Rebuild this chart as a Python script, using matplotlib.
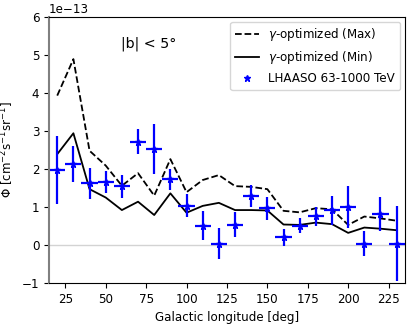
import numpy as np
import matplotlib
matplotlib.use("Agg")
import matplotlib.pyplot as plt

# Galactic longitude bins (deg)
lon = [20, 30, 40, 50, 60, 70, 80, 90, 100, 110, 120, 130, 140, 150,
       160, 170, 180, 190, 200, 210, 220, 230]

# gamma-optimized model fluxes, in units of 1e-13
flux_max = [3.93, 4.89, 2.48, 2.09, 1.56, 1.89, 1.30, 2.26, 1.39, 1.71, 1.84,
            1.55, 1.53, 1.47, 0.90, 0.86, 0.97, 0.94, 0.53, 0.75, 0.70, 0.64]
flux_min = [2.39, 2.94, 1.47, 1.25, 0.92, 1.14, 0.79, 1.36, 0.85, 1.03, 1.11,
            0.92, 0.92, 0.91, 0.54, 0.53, 0.59, 0.55, 0.32, 0.46, 0.43, 0.39]

# LHAASO 63-1000 TeV measurements, in units of 1e-13
lhaaso = [1.97, 2.13, 1.62, 1.66, 1.55, 2.72, 2.53, 1.73, 1.03, 0.51, 0.04,
          0.54, 1.29, 0.97, 0.20, 0.51, 0.76, 0.92, 0.99, 0.04, 0.82, 0.04]
lhaaso_err = [0.90, 0.47, 0.40, 0.30, 0.30, 0.33, 0.65, 0.28, 0.30, 0.38, 0.40,
              0.34, 0.30, 0.30, 0.22, 0.20, 0.25, 0.38, 0.55, 0.33, 0.45, 0.98]

scale = 1e-13
lon = np.array(lon)

plt.rcParams['font.size'] = 8.6

fig = plt.figure(figsize=(4.13, 3.25), dpi=100)
ax = fig.add_axes([0.119, 0.129, 0.861, 0.819])

ax.axhline(0, color='lightgray', lw=1, zorder=0)
ax.plot(lon, np.array(flux_max) * scale, 'k--', lw=1.3, label=r'$\gamma$-optimized (Max)')
ax.plot(lon, np.array(flux_min) * scale, 'k-', lw=1.3, label=r'$\gamma$-optimized (Min)')
ax.errorbar(lon, np.array(lhaaso) * scale, yerr=np.array(lhaaso_err) * scale, xerr=5,
            fmt='none', ecolor='blue', elinewidth=1.6, capsize=0)
ax.plot(lon, np.array(lhaaso) * scale, '*', color='blue', ms=5, lw=0,
        label='LHAASO 63-1000 TeV')

ax.set_xlim(15, 235)
ax.set_ylim(-1e-13, 6e-13)
ax.set_xticks([25, 50, 75, 100, 125, 150, 175, 200, 225])
ax.spines['left'].set_color('gray')
ax.spines['left'].set_linewidth(1.5)

ax.text(0.28, 0.9, r'|b| < 5°', transform=ax.transAxes, ha='center', va='center', fontsize=10.3)
ax.set_xlabel('Galactic longitude [deg]')
ax.set_ylabel(r'$\Phi$ [cm$^{-2}$s$^{-1}$sr$^{-1}$]')
ax.legend(loc='upper right', fontsize=8.6, borderaxespad=0.4)

plt.savefig('out.png', dpi=100)
